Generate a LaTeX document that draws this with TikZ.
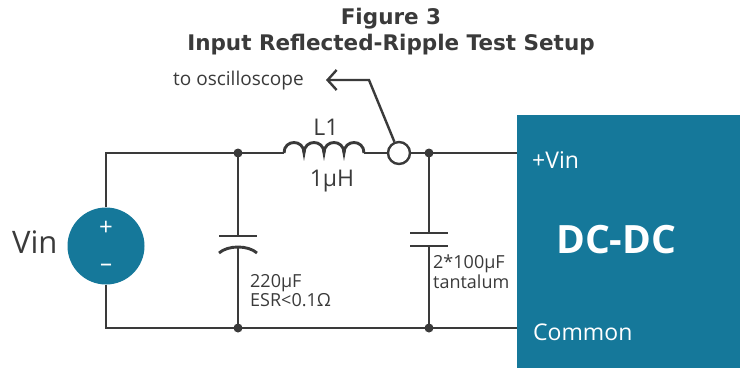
\documentclass[tikz,border=0pt]{standalone}
\usepackage{fontspec}
\setmainfont{Open Sans}
\newfontfamily\titlefont{DejaVu Sans}
\usetikzlibrary{arrows.meta}
\definecolor{wirec}{HTML}{3A3A3A}
\definecolor{dcteal}{HTML}{15789A}
\newcommand{\fsz}[1]{\fontsize{#1}{#1}\selectfont}
\begin{document}
\begin{tikzpicture}[x=1pt,y=-1pt,
  wire/.style={draw=wirec, line width=2.9pt},
  jdot/.style={circle, fill=wirec, inner sep=0pt, minimum size=9pt},
  lbl/.style={inner sep=0pt, anchor=base west, text=wirec},
  wlbl/.style={inner sep=0pt, anchor=base west, text=white}]
\useasboundingbox (0,0) rectangle (740,368);
% title
\node[inner sep=0pt, anchor=base, text=wirec, font=\titlefont\bfseries\fsz{21.5}] (t1) at (391,24) {Figure 3};
\node[inner sep=0pt, anchor=base, text=wirec, font=\titlefont\bfseries\fsz{21.5}] (t2) at (391,50) {Input Reflected-Ripple Test Setup};
% DC-DC box
\node[fill=dcteal, inner sep=0pt, minimum width=223pt, minimum height=253pt, anchor=north west] (dc) at (517,115) {};
\node[wlbl, font=\fsz{23}] (pvin) at (532,168) {+Vin};
\node[wlbl, font=\bfseries\fsz{39}] (dctxt) at (556,253) {DC-DC};
\node[wlbl, font=\fsz{23}] (com) at (533,340) {Common};
% source
\node[circle, fill=dcteal, inner sep=0pt, minimum size=77pt] (src) at (106,246) {};
\node[inner sep=0pt, text=white, font=\fsz{24}] (plus) at (106,228) {+};
\node[inner sep=0pt, text=white, font=\fsz{24}] (minus) at (106,268) {–};
\node[lbl, font=\fsz{31}] (vin) at (12,253) {Vin};
% junctions
\node[jdot] (c1t) at (238,153) {};
\node[jdot] (c1b) at (238,328) {};
\node[jdot] (c2t) at (429,153) {};
\node[jdot] (c2b) at (429,328) {};
\coordinate (Lin) at (284,153);
\coordinate (Lout) at (364,153);
\coordinate (vinpin) at (517,153);
\coordinate (compin) at (517,328);
\node[circle, draw=wirec, line width=2.4pt, inner sep=0pt, minimum size=22pt] (probe) at (399,153) {};
% wires
\draw[wire] (src.north) |- (c1t.center) -- (Lin);
\draw[wire] (Lin) .. controls (284,139) and (304,139) .. (304,153)
  .. controls (304,139) and (324,139) .. (324,153)
  .. controls (324,139) and (344,139) .. (344,153)
  .. controls (344,139) and (364,139) .. (364,153) -- (Lout);
\draw[wire] (Lout) -- (probe.west);
\draw[wire] (probe.east) -- (c2t.center) -- (vinpin);
\draw[wire] (src.south) |- (c1b.center) -- (c2b.center) -- (compin);
% C1
\coordinate (c1p1) at (238,236);
\coordinate (c1p2) at (238,247);
\draw[wire] (c1t.center) -- (c1p1);
\draw[wire] (219,236) -- (257,236);
\draw[wire] (219,253) .. controls (228,245) and (248,245) .. (257,253);
\draw[wire] (c1p2) -- (c1b.center);
% C2
\coordinate (c2p1) at (429,233);
\coordinate (c2p2) at (429,246);
\draw[wire] (c2t.center) -- (c2p1);
\draw[wire] (410,233) -- (448,233);
\draw[wire] (410,246) -- (448,246);
\draw[wire] (c2p2) -- (c2b.center);
% probe arrow
\coordinate (bend) at (369,80);
\coordinate (scope) at (326,80);
\draw[wire, line width=2.4pt, -{Straight Barb[length=9pt,width=20pt]}] (probe) -- (bend) -- (scope);
\node[lbl, font=\fsz{19}] (osc) at (173,85) {to oscilloscope};
% labels
\node[inner sep=0pt, anchor=base, text=wirec, font=\fsz{23}] (l1) at (326,135) {L1};
\node[inner sep=0pt, anchor=base, text=wirec, font=\fsz{23}] (l1v) at (332,186) {1µH};
\node[lbl, font=\fsz{18}] (c1a) at (250,287) {220µF};
\node[lbl, font=\fsz{18}] (c1c) at (250,306) {ESR<0.1Ω};
\node[lbl, font=\fsz{18}] (c2a) at (433,268) {2*100µF};
\node[lbl, font=\fsz{18}] (c2c) at (433,288) {tantalum};
\end{tikzpicture}
\end{document}
